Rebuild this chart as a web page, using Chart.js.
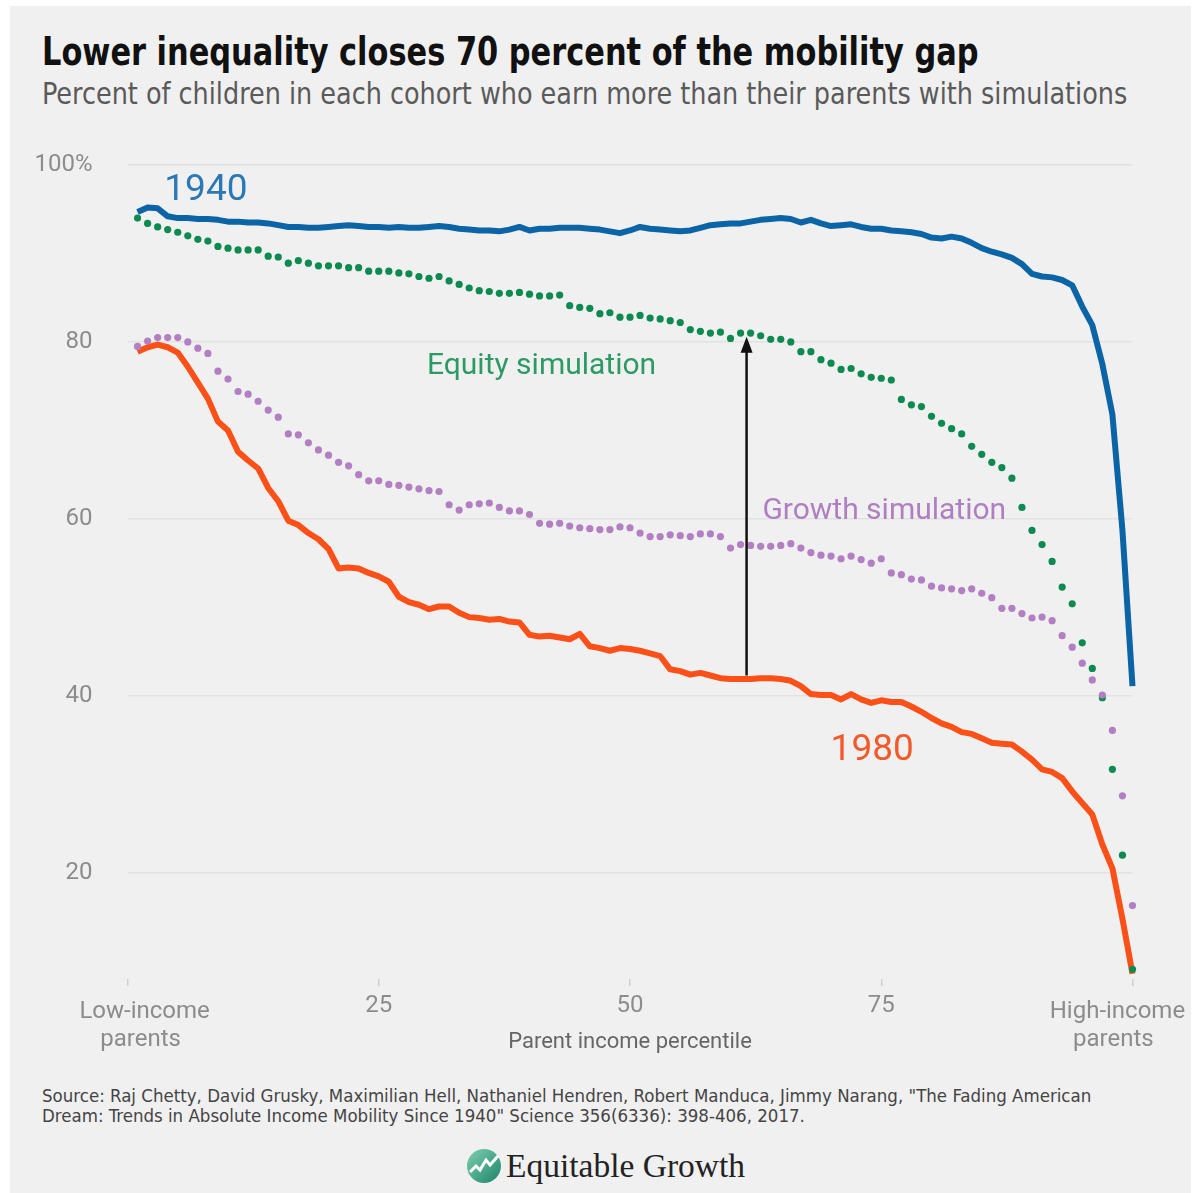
<!DOCTYPE html>
<html>
<head>
<meta charset="utf-8">
<script src="https://cdn.jsdelivr.net/npm/chart.js@4.4.1/dist/chart.umd.min.js"></script>
<style>
  html, body { margin: 0; padding: 0; background: #fff; }
  body { width: 1193px; height: 1193px; position: relative; overflow: hidden; }
  #panel { position: absolute; left: 10px; top: 6px; width: 1181px; height: 1187px; background: #f0f0f0; }
  .txt { position: absolute; white-space: nowrap; transform-origin: 0 0; }
  #title { left: 42px; top: 32px; font: bold 39px/39px "DejaVu Sans Condensed", "DejaVu Sans", sans-serif; color: #111; transform: scaleX(0.867); }
  #subtitle { left: 42px; top: 79px; font: 30px/30px "DejaVu Sans Condensed", "DejaVu Sans", sans-serif; color: #5a5a5a; transform: scaleX(0.945); }
  #wrap { position: absolute; left: 0; top: 130px; width: 1193px; height: 930px; }
  #source { left: 42px; top: 1086px; font: 18.5px/20px "DejaVu Sans Condensed", "DejaVu Sans", sans-serif; color: #444; }
  #logo { left: 466px; top: 1147px; font: 33.5px/38px "Liberation Serif", serif; color: #222; }
  #logo svg { vertical-align: middle; margin-right: 4px; position: relative; top: -3px; }
</style>
</head>
<body>
<div id="panel"></div>
<div class="txt" id="title">Lower inequality closes 70 percent of the mobility gap</div>
<div class="txt" id="subtitle">Percent of children in each cohort who earn more than their parents with simulations</div>
<div id="wrap"><canvas id="chart"></canvas></div>
<div class="txt" id="source">Source: Raj Chetty, David Grusky, Maximilian Hell, Nathaniel Hendren, Robert Manduca, Jimmy Narang, "The Fading American<br>Dream: Trends in Absolute Income Mobility Since 1940" Science 356(6336): 398-406, 2017.</div>
<div class="txt" id="logo"><svg width="36" height="36" viewBox="0 0 36 36"><defs><linearGradient id="g" x1="0" y1="0" x2="1" y2="1"><stop offset="0" stop-color="#7fd0b0"/><stop offset="1" stop-color="#1c8468"/></linearGradient></defs><circle cx="18" cy="18" r="17" fill="url(#g)"/><polyline points="4,24 10,18 14,22 20,12 24,17 32,8" fill="none" stroke="#fff" stroke-width="3"/></svg>Equitable Growth</div>

<script>
const percentiles = [
  1, 2, 3, 4, 5, 6, 7, 8, 9, 10,
  11, 12, 13, 14, 15, 16, 17, 18, 19, 20,
  21, 22, 23, 24, 25, 26, 27, 28, 29, 30,
  31, 32, 33, 34, 35, 36, 37, 38, 39, 40,
  41, 42, 43, 44, 45, 46, 47, 48, 49, 50,
  51, 52, 53, 54, 55, 56, 57, 58, 59, 60,
  61, 62, 63, 64, 65, 66, 67, 68, 69, 70,
  71, 72, 73, 74, 75, 76, 77, 78, 79, 80,
  81, 82, 83, 84, 85, 86, 87, 88, 89, 90,
  91, 92, 93, 94, 95, 96, 97, 98, 99, 100
];

const cohort1940 = [
  94.7, 95.2, 95.1, 94.2, 94.0, 94.0, 93.9, 93.9, 93.8, 93.6,
  93.6, 93.5, 93.5, 93.4, 93.2, 93.0, 93.0, 92.9, 92.9, 93.0,
  93.1, 93.2, 93.1, 93.0, 93.0, 92.9, 93.0, 92.9, 92.9, 93.0,
  93.1, 93.0, 92.8, 92.7, 92.6, 92.6, 92.5, 92.7, 93.0, 92.6,
  92.8, 92.8, 92.9, 92.9, 92.9, 92.8, 92.7, 92.5, 92.3, 92.6,
  93.0, 92.8, 92.7, 92.6, 92.5, 92.6, 92.9, 93.2, 93.3, 93.4,
  93.4, 93.6, 93.8, 93.9, 94.0, 93.9, 93.5, 93.8, 93.4, 93.1,
  93.2, 93.3, 93.0, 92.8, 92.8, 92.6, 92.5, 92.4, 92.2, 91.8,
  91.7, 91.9, 91.7, 91.2, 90.6, 90.2, 89.9, 89.5, 88.8, 87.7,
  87.4, 87.3, 87.0, 86.4, 84.0, 81.9, 77.5, 71.8, 58.7, 41.1
];

const equitySim = [
  94.0, 93.4, 93.0, 92.7, 92.4, 92.0, 91.6, 91.4, 90.8, 90.6,
  90.4, 90.4, 90.4, 89.7, 89.6, 88.9, 89.2, 88.9, 88.6, 88.6,
  88.6, 88.4, 88.4, 88.0, 88.0, 88.0, 87.8, 87.7, 87.4, 87.2,
  87.4, 86.9, 86.5, 86.1, 85.8, 85.7, 85.5, 85.5, 85.6, 85.4,
  85.2, 85.2, 85.3, 84.1, 83.9, 83.8, 83.2, 83.3, 82.8, 82.8,
  83.0, 82.7, 82.6, 82.4, 82.2, 81.4, 81.2, 81.0, 81.1, 80.4,
  81.0, 81.0, 80.7, 80.3, 80.3, 80.0, 78.9, 78.9, 78.0, 77.6,
  76.9, 77.0, 76.4, 76.0, 75.9, 75.7, 73.5, 72.9, 72.7, 71.6,
  70.8, 70.2, 69.6, 68.2, 67.3, 66.4, 65.8, 64.6, 61.3, 58.7,
  57.1, 55.2, 52.3, 50.4, 46.0, 43.1, 39.8, 31.7, 22.0, 9.1
];

const growthSim = [
  79.5, 80.1, 80.5, 80.5, 80.5, 80.0, 79.3, 78.7, 76.7, 75.8,
  74.4, 74.1, 73.3, 72.3, 71.5, 69.6, 69.5, 68.6, 67.8, 67.2,
  66.4, 66.0, 65.0, 64.3, 64.3, 63.9, 63.8, 63.6, 63.4, 63.2,
  63.1, 61.6, 61.0, 61.6, 61.7, 61.8, 61.3, 60.9, 60.9, 60.5,
  59.5, 59.4, 59.5, 59.2, 59.0, 58.9, 58.8, 58.8, 59.1, 59.0,
  58.4, 58.0, 58.0, 58.2, 58.1, 58.0, 58.3, 58.3, 58.0, 56.7,
  57.1, 57.0, 56.9, 56.9, 57.0, 57.2, 56.7, 56.2, 55.9, 55.8,
  55.5, 55.8, 55.4, 55.0, 55.5, 53.9, 53.7, 53.2, 53.1, 52.4,
  52.2, 52.1, 51.9, 52.1, 51.6, 51.1, 49.9, 49.9, 49.3, 48.8,
  48.9, 48.5, 46.8, 45.5, 43.7, 41.8, 40.1, 36.1, 28.7, 16.3
];

const cohort1980 = [
  78.9, 79.4, 79.7, 79.4, 78.8, 77.2, 75.4, 73.6, 71.0, 70.0,
  67.6, 66.6, 65.7, 63.5, 62.0, 59.8, 59.3, 58.4, 57.7, 56.6,
  54.4, 54.5, 54.4, 53.9, 53.5, 52.9, 51.2, 50.6, 50.3, 49.8,
  50.1, 50.1, 49.4, 48.9, 48.8, 48.6, 48.7, 48.4, 48.3, 46.9,
  46.7, 46.8, 46.6, 46.4, 47.0, 45.6, 45.4, 45.1, 45.4, 45.3,
  45.1, 44.8, 44.5, 43.0, 42.8, 42.4, 42.6, 42.3, 42.0, 41.9,
  41.9, 41.9, 42.0, 42.0, 41.9, 41.7, 41.1, 40.2, 40.1, 40.1,
  39.6, 40.2, 39.6, 39.2, 39.5, 39.3, 39.3, 38.8, 38.2, 37.5,
  36.9, 36.5, 35.9, 35.7, 35.2, 34.7, 34.6, 34.5, 33.7, 32.8,
  31.7, 31.4, 30.7, 29.2, 27.9, 26.6, 23.2, 20.5, 14.8, 8.6
];

const xTicks = [0, 25, 50, 75, 100];
const yTicks = [20, 40, 60, 80, 100];

const toPoints = vals => vals.map((v, i) => ({ x: percentiles[i], y: v }));

// text labels placed in data coordinates (baseline)
const seriesLabels = [
  { text: '1940', x: 7.8, y: 96.1, color: '#2a78b6', size: 37 },
  { text: 'Equity simulation', x: 41.2, y: 76.4, color: '#2c9a64', size: 30 },
  { text: 'Growth simulation', x: 75.3, y: 60.0, color: '#b07fc1', size: 30 },
  { text: '1980', x: 74.1, y: 32.8, color: '#f25a2a', size: 37 }
];
const arrow = { x: 61.6, from: 42.3, to: 80.6 };

const annotate = {
  id: 'annotate',
  afterDatasetsDraw(chart) {
    const { ctx, scales: { x, y } } = chart;
    ctx.save();
    // arrow from 1980 up to equity simulation
    const ax = x.getPixelForValue(arrow.x);
    const y0 = y.getPixelForValue(arrow.from);
    const y1 = y.getPixelForValue(arrow.to);
    ctx.strokeStyle = '#111';
    ctx.lineWidth = 2.5;
    ctx.beginPath();
    ctx.moveTo(ax, y0);
    ctx.lineTo(ax, y1 + 12);
    ctx.stroke();
    ctx.fillStyle = '#111';
    ctx.beginPath();
    ctx.moveTo(ax, y1);
    ctx.lineTo(ax - 6, y1 + 16);
    ctx.lineTo(ax + 6, y1 + 16);
    ctx.closePath();
    ctx.fill();

    ctx.textAlign = 'center';
    ctx.textBaseline = 'alphabetic';
    seriesLabels.forEach(l => {
      ctx.font = l.size + 'px Roboto, sans-serif';
      ctx.fillStyle = l.color;
      ctx.fillText(l.text, x.getPixelForValue(l.x), y.getPixelForValue(l.y));
    });

    // end labels of the x axis
    ctx.font = '24px Roboto, sans-serif';
    ctx.fillStyle = '#8c8c8c';
    const ty = x.top;
    ctx.fillText('Low-income', x.getPixelForValue(1.7), ty + 39);
    ctx.fillText('parents', x.getPixelForValue(1.3), ty + 67);
    ctx.fillText('High-income', x.getPixelForValue(98.5), ty + 39);
    ctx.fillText('parents', x.getPixelForValue(98.1), ty + 67);
    ctx.restore();
  }
};

new Chart(document.getElementById('chart'), {
  type: 'line',
  data: {
    datasets: [{
      label: 'Growth simulation',
      data: toPoints(growthSim),
      showLine: false,
      pointRadius: 3.6,
      pointBorderWidth: 0,
      pointBackgroundColor: '#b37fc3',
      order: 0
    }, {
      label: 'Equity simulation',
      data: toPoints(equitySim),
      showLine: false,
      pointRadius: 3.6,
      pointBorderWidth: 0,
      pointBackgroundColor: '#0c8a4f',
      order: 1
    }, {
      label: '1980',
      data: toPoints(cohort1980),
      borderColor: '#fb5118',
      borderWidth: 6,
      pointRadius: 0,
      borderJoinStyle: 'round',
      tension: 0,
      order: 2
    }, {
      label: '1940',
      data: toPoints(cohort1940),
      borderColor: '#0b64a6',
      borderWidth: 6,
      pointRadius: 0,
      borderJoinStyle: 'round',
      tension: 0,
      order: 3
    }]
  },
  options: {
    responsive: true,
    maintainAspectRatio: false,
    animation: false,
    clip: false,
    layout: { padding: { left: 0, right: 60.5, top: 35, bottom: 0 } },
    plugins: {
      legend: { display: false },
      tooltip: { enabled: false }
    },
    scales: {
      x: {
        type: 'linear',
        min: 0,
        max: 100,
        afterBuildTicks: axis => { axis.ticks = xTicks.map(v => ({ value: v })); },
        afterFit: axis => { axis.height = 81; },
        border: { display: false },
        grid: { drawOnChartArea: false, drawTicks: true, tickLength: 7, color: '#cfcfcf', lineWidth: 1.5 },
        ticks: {
          color: '#8c8c8c',
          font: { family: 'Roboto', size: 24 },
          padding: 6,
          maxRotation: 0,
          callback: v => (v === 0 || v === 100) ? '' : String(v)
        },
        title: {
          display: true,
          text: 'Parent income percentile',
          color: '#666',
          font: { family: 'Roboto', size: 22 },
          padding: { top: 0, bottom: 4 }
        }
      },
      y: {
        min: 8,
        max: 100,
        afterBuildTicks: axis => { axis.ticks = yTicks.map(v => ({ value: v })); },
        afterFit: axis => {
          axis.width = 127.5;
          axis.paddingTop = 15;
          axis.paddingBottom = 0;
        },
        border: { display: false },
        grid: { drawTicks: false, color: '#e2e2e2', lineWidth: 1.5 },
        ticks: {
          color: '#8c8c8c',
          font: { family: 'Roboto', size: 24 },
          padding: 35,
          callback: v => v === 100 ? '100%' : String(v)
        }
      }
    }
  },
  plugins: [annotate]
});
</script>
</body>
</html>
